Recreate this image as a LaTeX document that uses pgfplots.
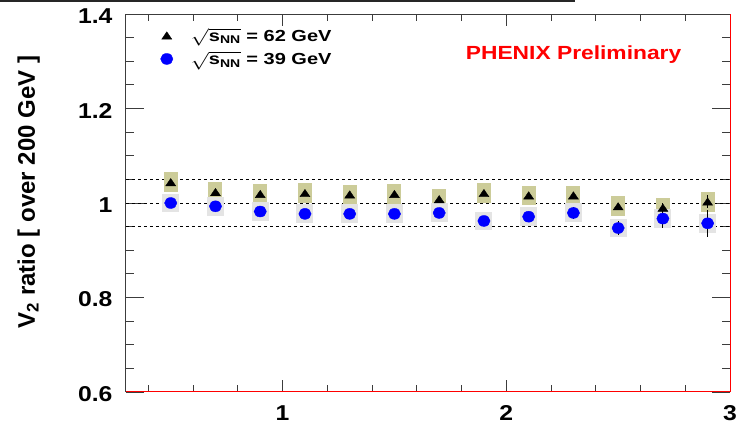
\documentclass[border=0pt]{standalone}
\usepackage{pgfplots}
\pgfplotsset{compat=1.18}
\usepackage{pgfplotstable}
\usepackage{fontspec}
\setmainfont{Liberation Sans}
\usepackage{graphicx}

\definecolor{sysA}{RGB}{204,204,153}
\definecolor{sysB}{RGB}{228,228,228}
\definecolor{frame}{RGB}{60,60,60}
\newcommand{\wide}[2][1.2]{\scalebox{#1}[1]{#2}}

% sqrt(sNN) = 62 GeV
\pgfplotstableread{
x   y     ey    sy
0.5 1.044 0.004 0.021
0.7 1.023 0.004 0.021
0.9 1.019 0.004 0.021
1.1 1.021 0.004 0.021
1.3 1.018 0.004 0.021
1.5 1.019 0.004 0.021
1.7 1.008 0.005 0.021
1.9 1.021 0.005 0.021
2.1 1.016 0.005 0.021
2.3 1.016 0.006 0.021
2.5 0.993 0.008 0.021
2.7 0.990 0.011 0.021
2.9 1.003 0.014 0.021
}\tabA

% sqrt(sNN) = 39 GeV
\pgfplotstableread{
x   y     ey    sy
0.5 1.000 0.006 0.020
0.7 0.993 0.005 0.020
0.9 0.982 0.005 0.020
1.1 0.977 0.005 0.020
1.3 0.977 0.005 0.020
1.5 0.977 0.005 0.020
1.7 0.979 0.006 0.020
1.9 0.962 0.008 0.020
2.1 0.971 0.008 0.020
2.3 0.979 0.012 0.020
2.5 0.947 0.014 0.020
2.7 0.967 0.020 0.020
2.9 0.957 0.028 0.020
}\tabB

\begin{document}
\begin{tikzpicture}
\path[use as bounding box] (-126pt,-33pt) rectangle (611pt,392pt);
\clip (-126pt,-33pt) rectangle (611pt,392pt);
\draw[line width=2.5pt, black!85] (-126pt,391pt) -- (449pt,391pt);
\begin{axis}[
  at={(0pt,0pt)}, anchor=south west,
  scale only axis, width=604pt, height=378pt,
  xmin=0.3, xmax=3, ymin=0.6, ymax=1.4,
  xtick={1,2,3}, ytick={0.6,0.8,1,1.2,1.4},
  minor xtick={0.4,0.6,0.8,1.2,1.4,1.6,1.8,2.2,2.4,2.6,2.8},
  minor ytick={0.65,0.7,0.75,0.85,0.9,0.95,1.05,1.1,1.15,1.25,1.3,1.35},
  tick align=inside,
  major tick length=18pt, minor tick length=8pt,
  xtick style={/pgfplots/major tick length=12pt, /pgfplots/minor tick length=7pt},
  tick style={draw=frame, line width=0.9pt},
  axis line style={draw=frame, line width=1pt},
  /pgf/number format/assume math mode=true,
  ticklabel style={font=\bfseries\fontsize{21.5}{21.5}\selectfont},
  xticklabel={\wide[1.15]{\pgfmathprintnumber{\tick}}},
  yticklabel={\wide[1.15]{\pgfmathprintnumber{\tick}}},
  yticklabel style={xshift=-10pt, yshift=-2pt},
  xticklabel style={yshift=-10pt},
  ylabel={V\textsubscript{2} ratio [ over 200 GeV ]},
  ylabel style={at={(axis description cs:-0.161,0.529)}, anchor=center,
    font=\bfseries\fontsize{24}{24}\selectfont},
  legend style={at={(axis description cs:0.057,0.968)}, anchor=north west,
    draw=none, fill=none, inner sep=0pt,
    font=\bfseries\fontsize{16}{16}\selectfont, row sep=5pt},
  legend cell align=left,
]
% reference lines
\addplot[black, line width=0.8pt, dash pattern=on 3pt off 3pt, forget plot] coordinates {(0.3,1.05) (3,1.05)};
\addplot[black, line width=0.8pt, dash pattern=on 3pt off 3pt, forget plot] coordinates {(0.3,1) (3,1)};
\addplot[black, line width=0.8pt, dash pattern=on 3pt off 3pt, forget plot] coordinates {(0.3,0.95) (3,0.95)};
% systematic boxes
\addplot[draw=none, mark=none, forget plot,
  error bars/.cd, y dir=both, y explicit, error mark=none,
  error bar style={solid, draw=sysA, line width=14pt}]
  table[x=x, y=y, y error=sy] {\tabA};
\addplot[draw=none, mark=none, forget plot,
  error bars/.cd, y dir=both, y explicit, error mark=none,
  error bar style={solid, draw=sysB, line width=17pt}]
  table[x=x, y=y, y error=sy] {\tabB};
% points with statistical errors
\addplot[only marks, black, mark=triangle*, mark size=4.9pt,
  mark options={xscale=1.18, yshift=-1.2pt},
  error bars/.cd, y dir=both, y explicit, error mark=none,
  error bar style={solid, black, line width=1.2pt}]
  table[x=x, y=y, y error=ey] {\tabA};
\addlegendentry{\hspace{16pt}\wide[1.25]{$\sqrt{\mbox{s\textsubscript{NN}}}$ = 62 GeV}}
\addplot[only marks, blue, mark=*, mark size=5.5pt,
  mark options={xscale=1.12, fill=blue, draw=blue},
  error bars/.cd, y dir=both, y explicit, error mark=none,
  error bar style={solid, black, line width=1.2pt}]
  table[x=x, y=y, y error=ey] {\tabB};
\addlegendentry{\hspace{16pt}\wide[1.25]{$\sqrt{\mbox{s\textsubscript{NN}}}$ = 39 GeV}}
\node[text=red, font=\bfseries\fontsize{19}{19}\selectfont] at (axis description cs:0.741,0.893) {\wide[1.2]{PHENIX Preliminary}};
\end{axis}
\draw[red, line width=1pt] (0pt,0pt) -- (604pt,0pt) -- (604pt,378pt);
\end{tikzpicture}
\end{document}
